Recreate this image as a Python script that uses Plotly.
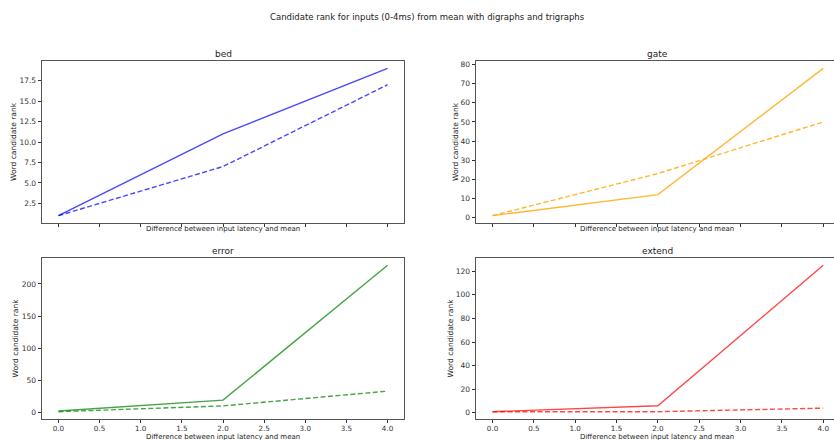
import plotly.graph_objects as go

x_vals = [0, 2, 4]
words = ["bed", "gate", "error", "extend"]
digraph_ranks = {
    "bed": [1, 11, 19],
    "gate": [1, 12, 78],
    "error": [2, 19, 229],
    "extend": [1, 6, 125],
}
trigraph_ranks = {
    "bed": [1, 7, 17],
    "gate": [1, 23, 50],
    "error": [1, 10, 33],
    "extend": [1, 1, 4],
}
colors = {
    "bed": "rgba(0,0,255,0.72)",
    "gate": "rgba(255,165,0,0.8)",
    "error": "rgba(0,128,0,0.72)",
    "extend": "rgba(255,0,0,0.72)",
}
y_ticks = {
    "bed": [2.5, 5.0, 7.5, 10.0, 12.5, 15.0, 17.5],
    "gate": [0, 10, 20, 30, 40, 50, 60, 70, 80],
    "error": [0, 50, 100, 150, 200],
    "extend": [0, 20, 40, 60, 80, 100, 120],
}
x_ticks = [0.0, 0.5, 1.0, 1.5, 2.0, 2.5, 3.0, 3.5, 4.0]
x_title = "Difference between input latency and mean"
y_title = "Word candidate rank"
main_title = "Candidate rank for inputs (0-4ms) from mean with digraphs and trigraphs"

W, H = 834, 440
# left, right, top, bottom (px), x max of range, y-title x (px); right column clipped by page edge
boxes = {
    "bed": (42, 404, 61, 223, 4.2, 13),
    "gate": (476, 834, 61, 223, 4.13, 455),
    "error": (42, 404, 258, 419, 4.2, 15),
    "extend": (476, 834, 258, 419, 4.13, 450),
}
FULL_W = 404 - 42

font = "DejaVu Sans"
fig = go.Figure()
layout = {}
annotations = []


def note(text, px, py, size, angle=0):
    return dict(text=text, x=px / W, y=1 - py / H, xref="paper", yref="paper",
                xanchor="center", yanchor="middle", showarrow=False,
                textangle=angle, font=dict(family=font, size=size, color="#222"))


for i, w in enumerate(words):
    n = i + 1
    xa = "x" if n == 1 else f"x{n}"
    ya = "y" if n == 1 else f"y{n}"
    L, R, T, B, xmax, ytx = boxes[w]
    fig.add_trace(go.Scatter(x=x_vals, y=digraph_ranks[w], mode="lines",
                             line=dict(color=colors[w], width=1.4),
                             xaxis=xa, yaxis=ya, showlegend=False))
    fig.add_trace(go.Scatter(x=x_vals, y=trigraph_ranks[w], mode="lines",
                             line=dict(color=colors[w], width=1.4, dash="5px,2.5px"),
                             xaxis=xa, yaxis=ya, showlegend=False))
    allv = digraph_ranks[w] + trigraph_ranks[w]
    lo, hi = min(allv), max(allv)
    pad = (hi - lo) * 0.05
    bottom_row = w in ("error", "extend")
    right_col = w in ("gate", "extend")
    ax = dict(domain=[L / W, R / W], range=[-0.2, xmax], anchor=ya,
              tickvals=x_ticks, ticktext=[f"{v:.1f}" for v in x_ticks],
              showticklabels=bottom_row, ticks="outside", ticklen=3.5,
              tickwidth=0.8, tickcolor="#333", showline=True, linecolor="#555",
              linewidth=0.8, mirror=True, showgrid=False, zeroline=False,
              automargin=False, ticklabelstandoff=-1,
              tickfont=dict(family=font, size=7.2, color="#333"))
    ay = dict(domain=[1 - B / H, 1 - T / H], range=[lo - pad, hi + pad], anchor=xa,
              tickvals=y_ticks[w],
              ticktext=[(f"{v:.1f}" if w == "bed" else f"{v:g}") for v in y_ticks[w]],
              ticks="outside", ticklen=3.5, tickwidth=0.8, tickcolor="#333",
              showline=True, linecolor="#555", linewidth=0.8,
              mirror=(not right_col), showgrid=False, zeroline=False,
              automargin=False,
              tickfont=dict(family=font, size=7.5, color="#333"))
    layout["xaxis" if n == 1 else f"xaxis{n}"] = ax
    layout["yaxis" if n == 1 else f"yaxis{n}"] = ay
    cx = L + FULL_W / 2
    annotations.append(note(w, cx, T - 7, 9))
    annotations.append(note(x_title, cx, 436.5 if bottom_row else 229, 7))
    annotations.append(note(y_title, ytx, (T + B) / 2, 7.5, angle=-90))

annotations.append(note(main_title, 427, 17, 8.5))

fig.update_layout(width=W, height=H, margin=dict(l=0, r=0, t=0, b=0),
                  paper_bgcolor="white", plot_bgcolor="white",
                  annotations=annotations, **layout)
fig.write_html("out.html", config={"displayModeBar": False},
               post_script="document.body.style.margin='0px';document.body.style.overflow='hidden';")
